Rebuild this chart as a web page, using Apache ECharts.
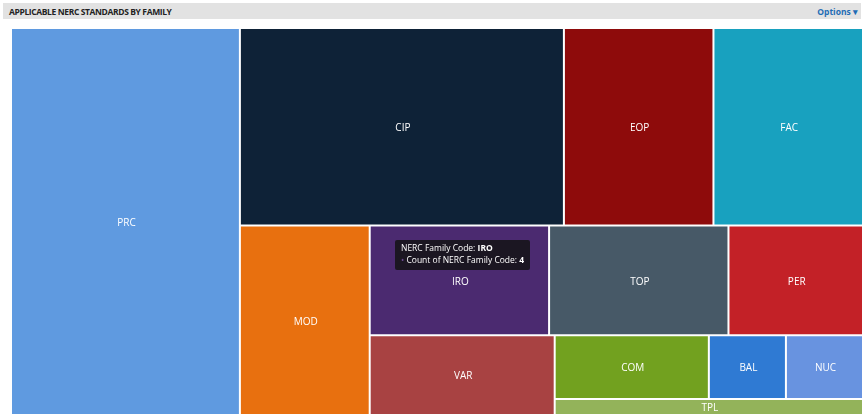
<!DOCTYPE html>
<html><head><meta charset="utf-8">
<script src="https://cdn.jsdelivr.net/npm/echarts@6/dist/echarts.min.js"></script>
<style>
html,body{margin:0;padding:0;background:#fff;}
#hdr{position:absolute;left:3px;top:3px;width:858px;height:16px;background:#e2e2e2;font-family:"Open Sans",sans-serif;}
#hdr .t{position:absolute;left:6px;top:2.5px;font-size:8.5px;font-weight:700;color:#222;letter-spacing:-0.38px;}
#hdr .o{position:absolute;right:3px;top:3px;font-size:8.5px;font-weight:700;color:#1f6db5;}
#c{position:absolute;left:0;top:0;width:864px;height:417px;}
</style></head>
<body>
<div id="c"></div>
<div id="hdr"><span class="t">APPLICABLE NERC STANDARDS BY FAMILY</span><span class="o">Options ▾</span></div>
<script>
// Data
const families = ['PRC','CIP','EOP','FAC','MOD','IRO','TOP','PER','VAR','COM','BAL','NUC','TPL'];
const counts   = [18,13,6,6,5,4,4,3,3,2,1,1,1];
const colors   = ['#5f9ae0','#0e2237','#8e0b0b','#18a1bf','#e8700f','#4b2a70','#475967','#c32127','#a84242','#72a11f','#2f7ad3','#6893e0','#93b35a'];

// Grouping of the families to reproduce the reference arrangement ('|' = row break)
const arrangement = ['PRC','|',[
  ['CIP','|','EOP','|','FAC'],
  ['MOD','|',[
    ['IRO','|','TOP','|','PER'],
    ['VAR','|',[
      ['COM','|','BAL','|','NUC'],
      'TPL'
    ]]
  ]]
]];

function build(item){
  if (Array.isArray(item)) return {name:'', children:item.map(build), itemStyle:{color:'#fff'}};
  if (item === '|') return {name:'', value:1e-5, itemStyle:{color:'rgba(0,0,0,0)',borderWidth:0}, label:{show:false}, tooltip:{show:false}};
  const i = families.indexOf(item);
  return {name:item, value:counts[i], itemStyle:{color:colors[i]}};
}

const chart = echarts.init(document.getElementById('c'));
chart.setOption({
  animation:false,
  tooltip:{
    trigger:'item',
    alwaysShowContent:true,
    backgroundColor:'rgba(22,20,26,0.9)',
    borderWidth:0,
    padding:[2,6,4,6],
    extraCssText:'box-shadow:none;border-radius:2px;line-height:12px;',
    textStyle:{color:'#fff',fontSize:8.5,fontFamily:'Open Sans'},
    position:[395,240],
    formatter:p=>'NERC Family Code: <b>'+p.name+'</b><br/><span style="color:#6a4a90">•</span> Count of NERC Family Code: <b>'+p.value+'</b>'
  },
  series:[{
    type:'treemap',
    left:12, top:29, right:2, bottom:3,
    roam:false, nodeClick:false,
    sort:false,
    squareRatio:20,
    breadcrumb:{show:false},
    label:{show:true,position:'inside',align:'center',verticalAlign:'middle',color:'#fff',fontSize:10,fontFamily:'Open Sans',padding:0,lineHeight:11,offset:[1,1.5]},
    upperLabel:{show:false},
    itemStyle:{borderWidth:0,gapWidth:2,borderColor:'#fff'},
    emphasis:{disabled:true},
    data: arrangement.map(build)
  }]
});
chart.dispatchAction({type:'showTip',seriesIndex:0,name:'IRO'});
</script>
</body></html>
